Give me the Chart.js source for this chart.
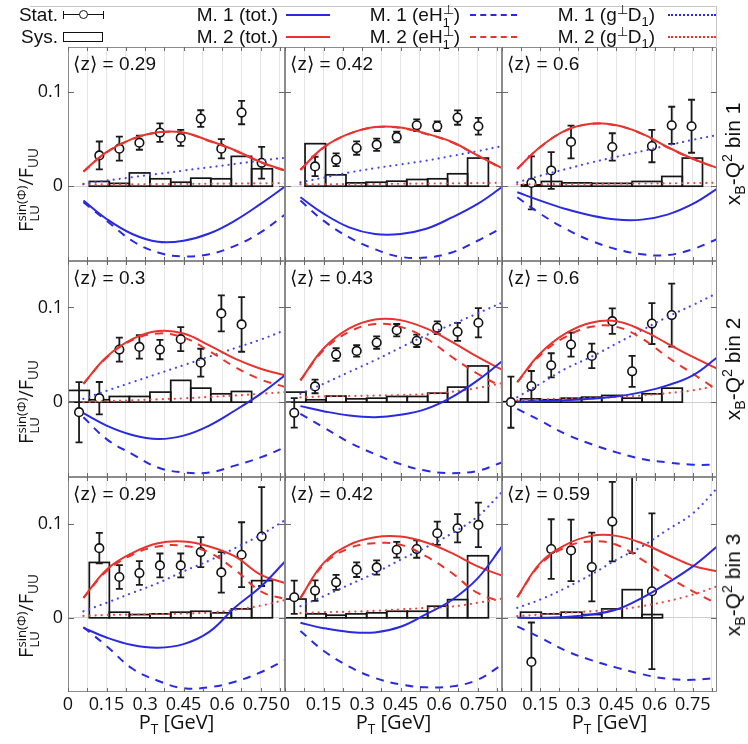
<!DOCTYPE html>
<html>
<head>
<meta charset="utf-8">
<script src="https://cdn.jsdelivr.net/npm/chart.js@4.4.1/dist/chart.umd.min.js"></script>
<style>
  body { margin: 0; background: #fff; }
  #wrap { position: relative; width: 748px; height: 744px; overflow: hidden; font-family: 'Open Sans', sans-serif; color: #111; }
  #wrap canvas { position: absolute; }
  .lab { position: absolute; white-space: nowrap; line-height: 22px; }
  .leg { font-family: 'Liberation Sans Narrow', 'Liberation Sans', sans-serif; font-size: 19px; }
  .rot { transform: translate(-50%, -50%) rotate(-90deg); }
  .st { display: inline-block; vertical-align: -0.42em; font-size: 0.66em; line-height: 1.0; text-align: left; }
  .st span { display: block; }
  sub, sup { font-size: 0.68em; line-height: 0; }
  .sym { position: absolute; }
</style>
</head>
<body>
<div id="wrap"></div>
<script>
// ---- data ----
const zLabels = ['0.29', '0.42', '0.6', '0.3', '0.43', '0.6', '0.29', '0.42', '0.59'];
const binLabels = ['bin 1', 'bin 2', 'bin 3'];
const curvePT = [0.06, 0.15, 0.25, 0.35, 0.45, 0.55, 0.65, 0.75, 0.845];

// stat. points: P_T, value, error  (one row per panel)
const statPT = [
  [0.122, 0.200, 0.278, 0.358, 0.439, 0.517, 0.597, 0.676, 0.754],
  [0.117, 0.199, 0.279, 0.357, 0.435, 0.513, 0.593, 0.672, 0.753],
  [0.1155, 0.1934, 0.2713, 0.4335, 0.5893, 0.667, 0.745],
  [0.043, 0.122, 0.200, 0.278, 0.358, 0.439, 0.517, 0.597, 0.676],
  [0.036, 0.117, 0.199, 0.279, 0.357, 0.435, 0.513, 0.593, 0.672, 0.753],
  [0.035, 0.1155, 0.1934, 0.2713, 0.353, 0.4335, 0.5114, 0.5893, 0.667],
  [0.122, 0.200, 0.278, 0.358, 0.439, 0.517, 0.597, 0.676, 0.754],
  [0.036, 0.117, 0.199, 0.279, 0.357, 0.435, 0.513, 0.593, 0.672, 0.753],
  [0.1155, 0.1934, 0.2713, 0.353, 0.4335, 0.5114, 0.5893]
];
const statVal = [
  [0.0325, 0.0396, 0.046, 0.0566, 0.051, 0.0714, 0.0396, 0.0778, 0.0247],
  [0.0209, 0.0279, 0.0403, 0.0438, 0.052, 0.0643, 0.0633, 0.0725, 0.0633],
  [0.0035, 0.0166, 0.0467, 0.0414, 0.0424, 0.0643, 0.0633],
  [-0.0106, 0.0042, 0.0555, 0.0583, 0.0555, 0.0665, 0.0417, 0.0937, 0.082],
  [-0.0113, 0.0166, 0.0502, 0.0541, 0.0629, 0.076, 0.0647, 0.0785, 0.0742, 0.0838],
  [0.0, 0.017, 0.0389, 0.0608, 0.0488, 0.0855, 0.0325, 0.083, 0.0919],
  [0.0742, 0.0435, 0.0477, 0.0558, 0.0558, 0.070, 0.0484, 0.0672, 0.0866],
  [0.0219, 0.029, 0.0378, 0.0513, 0.0537, 0.0725, 0.0732, 0.0901, 0.0954, 0.099],
  [-0.047, 0.0732, 0.0718, 0.0541, 0.1025, 0.16, 0.0283]
];
const statErr = [
  [0.0147, 0.0127, 0.0075, 0.0097, 0.0085, 0.0088, 0.0102, 0.0124, 0.0168],
  [0.0102, 0.0067, 0.0071, 0.0064, 0.0057, 0.0062, 0.0051, 0.0076, 0.0088],
  [0.0279, 0.0194, 0.0173, 0.0145, 0.0171, 0.0196, 0.028],
  [0.0318, 0.0171, 0.0127, 0.0124, 0.0102, 0.0127, 0.0147, 0.019, 0.0288],
  [0.0155, 0.0072, 0.0067, 0.006, 0.0065, 0.0065, 0.0065, 0.0067, 0.0095, 0.0155],
  [0.027, 0.0159, 0.0127, 0.0127, 0.0129, 0.0135, 0.0163, 0.0216, 0.0332],
  [0.0163, 0.0127, 0.0127, 0.0127, 0.0127, 0.0159, 0.0216, 0.0346, 0.0527],
  [0.0177, 0.011, 0.008, 0.0078, 0.0076, 0.0083, 0.0092, 0.0124, 0.015, 0.0237],
  [0.042, 0.0318, 0.0327, 0.0366, 0.0424, 0.091, 0.083]
];

// sys. boxes: bin edges and heights
const sysEdges = [
  [0.083, 0.161, 0.239, 0.319, 0.400, 0.478, 0.556, 0.636, 0.715, 0.796],
  [0.078, 0.158, 0.2375, 0.315, 0.396, 0.474, 0.5555, 0.633, 0.711, 0.792],
  [0.0766, 0.1545, 0.235, 0.352, 0.5114, 0.628, 0.7087, 0.788],
  [0.001, 0.083, 0.161, 0.239, 0.319, 0.400, 0.478, 0.556, 0.636, 0.715],
  [0.0, 0.0818, 0.16, 0.2375, 0.318, 0.396, 0.476, 0.5555, 0.633, 0.711, 0.792],
  [0.0, 0.0727, 0.1506, 0.2323, 0.3128, 0.392, 0.4725, 0.5503, 0.628, 0.7087],
  [0.083, 0.161, 0.239, 0.319, 0.400, 0.478, 0.556, 0.636, 0.715, 0.796],
  [0.0, 0.0818, 0.16, 0.2375, 0.318, 0.396, 0.476, 0.5555, 0.633, 0.711, 0.792],
  [0.0727, 0.1545, 0.2323, 0.3141, 0.392, 0.4725, 0.5503, 0.6308]
];
const sysVal = [
  [0.005, 0.003, 0.014, 0.0078, 0.0042, 0.0085, 0.0078, 0.0315, 0.0184],
  [0.0449, 0.012, 0.0035, 0.0042, 0.0053, 0.0071, 0.0078, 0.0131, 0.0297],
  [0.0014, 0.005, 0.0035, 0.003, 0.005, 0.0103, 0.0297],
  [0.0124, 0.0025, 0.006, 0.006, 0.0106, 0.023, 0.0148, 0.0088, 0.0113],
  [0.0106, 0.0025, 0.0064, 0.0035, 0.0042, 0.006, 0.006, 0.0095, 0.0159, 0.0382],
  [0.0005, 0.0035, 0.0025, 0.0042, 0.0053, 0.0071, 0.0042, 0.0088, 0.0148],
  [0.059, 0.006, 0.0035, 0.0042, 0.006, 0.007, 0.0053, 0.0095, 0.0396],
  [0.020, 0.0042, 0.0028, 0.0042, 0.0053, 0.007, 0.007, 0.0124, 0.0194, 0.0661],
  [0.006, 0.0042, 0.006, 0.0035, 0.0095, 0.030, 0.0035]
];

// model curves sampled at curvePT
const m1Tot = [
  [-0.0152, -0.0346, -0.0505, -0.0587, -0.0576, -0.050, -0.0364, -0.0187, -0.0004],
  [-0.0117, -0.029, -0.0435, -0.0505, -0.0505, -0.045, -0.033, -0.0187, -0.001],
  [-0.0064, -0.0152, -0.024, -0.031, -0.0353, -0.0353, -0.030, -0.0187, -0.0028],
  [-0.0117, -0.0247, -0.0346, -0.0389, -0.0353, -0.0247, -0.0088, 0.0088, 0.0283],
  [-0.0042, -0.0095, -0.0141, -0.0159, -0.0134, -0.0071, 0.0053, 0.023, 0.0431],
  [0.0003, 0.001, 0.002, 0.0035, 0.006, 0.0106, 0.0177, 0.0283, 0.047],
  [-0.0106, -0.021, -0.029, -0.0318, -0.028, -0.015, 0.011, 0.033, 0.060],
  [-0.0053, -0.011, -0.015, -0.0155, -0.0095, 0.004, 0.019, 0.042, 0.076],
  [0.0, 0.0, 0.001, 0.0035, 0.0088, 0.0212, 0.0371, 0.0548, 0.076]
];
const m2Tot = [
  [0.0156, 0.036, 0.050, 0.057, 0.0566, 0.048, 0.038, 0.0255, 0.0166],
  [0.0173, 0.041, 0.0555, 0.0626, 0.0619, 0.0555, 0.0467, 0.0325, 0.019],
  [0.0184, 0.0414, 0.059, 0.066, 0.0643, 0.0555, 0.0414, 0.029, 0.0194],
  [0.0194, 0.0477, 0.0665, 0.075, 0.0725, 0.060, 0.046, 0.0353, 0.0283],
  [0.023, 0.0566, 0.0778, 0.0873, 0.0866, 0.0778, 0.0636, 0.0477, 0.0343],
  [0.0212, 0.0513, 0.0725, 0.0838, 0.0855, 0.076, 0.0619, 0.0477, 0.0353],
  [0.0212, 0.0513, 0.069, 0.0795, 0.0813, 0.076, 0.0654, 0.046, 0.0371],
  [0.0212, 0.0583, 0.0778, 0.0859, 0.0866, 0.0802, 0.0689, 0.0548, 0.0449],
  [0.0219, 0.0583, 0.0778, 0.0873, 0.0873, 0.0795, 0.0672, 0.0555, 0.0495]
];
const m1eH = [
  [-0.017, -0.0364, -0.0576, -0.070, -0.0742, -0.0718, -0.063, -0.0488, -0.030],
  [-0.0152, -0.0364, -0.0541, -0.0665, -0.0746, -0.0753, -0.070, -0.0576, -0.044],
  [-0.0117, -0.029, -0.045, -0.0576, -0.0665, -0.0718, -0.0728, -0.0665, -0.0559],
  [-0.0159, -0.039, -0.0548, -0.069, -0.0742, -0.0742, -0.067, -0.0583, -0.0477],
  [-0.0124, -0.0265, -0.0424, -0.0548, -0.0654, -0.0725, -0.075, -0.0725, -0.0636],
  [-0.0071, -0.0194, -0.0336, -0.0442, -0.053, -0.060, -0.0636, -0.066, -0.066],
  [-0.010, -0.030, -0.054, -0.067, -0.075, -0.074, -0.068, -0.058, -0.045],
  [-0.014, -0.035, -0.052, -0.064, -0.071, -0.074, -0.073, -0.066, -0.050],
  [-0.009, -0.021, -0.035, -0.045, -0.053, -0.060, -0.065, -0.066, -0.064]
];
const m2eH = [
  [0.0152, 0.0357, 0.0497, 0.0567, 0.0562, 0.0477, 0.0377, 0.0252, 0.0163],
  [0.0171, 0.0407, 0.0552, 0.0622, 0.0615, 0.0552, 0.0463, 0.0322, 0.0187],
  [0.0182, 0.0411, 0.0587, 0.0657, 0.064, 0.0552, 0.0411, 0.0288, 0.0192],
  [0.0194, 0.047, 0.0654, 0.0725, 0.0682, 0.054, 0.0371, 0.024, 0.016],
  [0.023, 0.0548, 0.0742, 0.0824, 0.0795, 0.0672, 0.0477, 0.030, 0.016],
  [0.0212, 0.0495, 0.069, 0.0795, 0.0795, 0.0672, 0.0477, 0.030, 0.013],
  [0.0212, 0.0495, 0.0672, 0.076, 0.0767, 0.0696, 0.0513, 0.0283, 0.020],
  [0.0212, 0.0566, 0.0742, 0.0795, 0.0778, 0.0654, 0.0477, 0.0265, 0.017],
  [0.0219, 0.0566, 0.0753, 0.0813, 0.0778, 0.0619, 0.0442, 0.0283, 0.015]
];
const m1gD = [
  [0.0025, 0.006, 0.0095, 0.013, 0.0165, 0.020, 0.0235, 0.027, 0.030],
  [0.004, 0.009, 0.0145, 0.019, 0.023, 0.027, 0.032, 0.037, 0.0424],
  [0.004, 0.011, 0.018, 0.025, 0.031, 0.037, 0.043, 0.049, 0.054],
  [0.0035, 0.012, 0.021, 0.030, 0.039, 0.048, 0.057, 0.066, 0.076],
  [0.0088, 0.0194, 0.0318, 0.0442, 0.0576, 0.0707, 0.082, 0.0937, 0.105],
  [0.0053, 0.0194, 0.0353, 0.0477, 0.0619, 0.076, 0.090, 0.1025, 0.115],
  [0.007, 0.016, 0.0265, 0.037, 0.0495, 0.061, 0.0742, 0.0884, 0.104],
  [0.0124, 0.023, 0.0353, 0.0477, 0.0619, 0.0753, 0.090, 0.108, 0.134],
  [0.0106, 0.0194, 0.0318, 0.046, 0.0619, 0.076, 0.0937, 0.1113, 0.138]
];
const m2gD = [
  [0.002, 0.002, 0.002, 0.0022, 0.0024, 0.0026, 0.0028, 0.003, 0.0032],
  [0.002, 0.002, 0.0022, 0.0024, 0.0026, 0.0028, 0.003, 0.0033, 0.0036],
  [0.002, 0.002, 0.0022, 0.0024, 0.0026, 0.0028, 0.003, 0.0033, 0.0036],
  [0.0, 0.001, 0.002, 0.003, 0.004, 0.0055, 0.007, 0.0088, 0.0106],
  [0.005, 0.006, 0.0065, 0.007, 0.0075, 0.0085, 0.011, 0.015, 0.020],
  [0.002, 0.003, 0.004, 0.0045, 0.0055, 0.007, 0.0095, 0.0125, 0.0175],
  [0.002, 0.003, 0.0035, 0.004, 0.0045, 0.0055, 0.0085, 0.013, 0.019],
  [0.005, 0.006, 0.0065, 0.0075, 0.009, 0.0105, 0.012, 0.016, 0.0205],
  [0.0018, 0.0035, 0.0053, 0.007, 0.0088, 0.0124, 0.0177, 0.0247, 0.0336]
];

// ---- layout ----
const colL = [68, 285, 502], colR = [285, 502, 717];
const rowT = [47, 261, 477], rowB = [261, 477, 692];
const yMax = [0.147, 0.149, 0.15];
const YW = 40, XH = 28;
const BLUE = '#2a2ae2', RED = '#e8332e';

const wrap = document.getElementById('wrap');

function addLabel(html, css, cls) {
  const d = document.createElement('div');
  d.className = 'lab ' + (cls || '');
  d.innerHTML = html;
  Object.assign(d.style, css);
  wrap.appendChild(d);
  return d;
}

// boxes and error bars, drawn through the chart scales
const statSysPlugin = {
  id: 'statSys',
  beforeDatasetsDraw(chart, args, opts) {
    const p = opts.panel;
    const { ctx, chartArea: a } = chart;
    const x = chart.scales.x, y = chart.scales.y;
    ctx.save();
    ctx.beginPath();
    ctx.rect(a.left, a.top, a.right - a.left, a.bottom - a.top);
    ctx.clip();
    // sys boxes
    ctx.strokeStyle = '#141414';
    ctx.lineWidth = 1.7;
    const e = sysEdges[p], v = sysVal[p];
    for (let i = 0; i < v.length; i++) {
      const x0 = x.getPixelForValue(e[i]), x1 = x.getPixelForValue(e[i + 1]);
      const y0 = y.getPixelForValue(0), y1 = y.getPixelForValue(v[i]);
      ctx.strokeRect(x0, y1, x1 - x0, y0 - y1);
    }
    // stat error bars
    ctx.lineWidth = 1.8;
    ctx.strokeStyle = '#1a1a1a';
    const px = statPT[p], pv = statVal[p], pe = statErr[p];
    for (let i = 0; i < px.length; i++) {
      const xx = x.getPixelForValue(px[i]);
      const yl = y.getPixelForValue(pv[i] - pe[i]);
      const yh = y.getPixelForValue(pv[i] + pe[i]);
      ctx.beginPath();
      ctx.moveTo(xx, yl); ctx.lineTo(xx, yh);
      ctx.moveTo(xx - 3.5, yl); ctx.lineTo(xx + 3.5, yl);
      ctx.moveTo(xx - 3.5, yh); ctx.lineTo(xx + 3.5, yh);
      ctx.stroke();
    }
    ctx.restore();
  },
  afterDraw(chart, args, opts) {
    const { ctx, chartArea: a } = chart;
    const x = chart.scales.x, y = chart.scales.y;
    ctx.save();
    ctx.strokeStyle = '#8c8c8c';
    ctx.lineWidth = 1;
    ctx.strokeRect(a.left + 0.5, a.top + 0.5, a.right - a.left - 1, a.bottom - a.top - 1);
    // small inward tick marks on all four sides
    ctx.strokeStyle = '#6a6a6a';
    ctx.beginPath();
    x.ticks.forEach(t => {
      const xx = Math.round(x.getPixelForValue(t.value)) + 0.5;
      ctx.moveTo(xx, a.top); ctx.lineTo(xx, a.top + 4);
      ctx.moveTo(xx, a.bottom); ctx.lineTo(xx, a.bottom - 4);
    });
    y.ticks.forEach(t => {
      const yy = Math.round(y.getPixelForValue(t.value)) + 0.5;
      ctx.moveTo(a.left, yy); ctx.lineTo(a.left + 6, yy);
      ctx.moveTo(a.right, yy); ctx.lineTo(a.right - 6, yy);
    });
    ctx.stroke();
    ctx.fillStyle = '#111';
    ctx.font = "19px 'Liberation Sans', 'DejaVu Sans', sans-serif";
    ctx.textBaseline = 'alphabetic';
    ctx.fillText('\u27E8z\u27E9 = ' + zLabels[opts.panel], a.left + 5, a.top + 23);
    ctx.restore();
  }
};

function curve(vals, color, dash, width) {
  return {
    type: 'line',
    data: curvePT.map((x, i) => ({ x: x, y: vals[i] })),
    borderColor: color,
    borderWidth: width || 2,
    borderDash: dash || [],
    borderCapStyle: dash && dash[0] < 1 ? 'round' : 'butt',
    pointRadius: 0,
    fill: false,
    tension: 0.4,
    clip: 0
  };
}

// fixed axis sizes, no extra padding from tick labels
function fixSize(prop, size) {
  return s => {
    s[prop] = size;
    s.paddingLeft = 0; s.paddingRight = 0; s.paddingTop = 0; s.paddingBottom = 0;
  };
}

for (let p = 0; p < 9; p++) {
  const r = Math.floor(p / 3), c = p % 3;
  const yw = c === 0 ? YW : 0;
  const xh = r === 2 ? XH : 0;
  const padL = c === 0 ? 0 : (r === 2 ? 10 : 1);
  const padB = r === 2 ? 0 : 1;
  const padR = r === 2 ? 12 : 1;
  const w = colR[c] - colL[c] + yw + padL + padR;
  const h = rowB[r] - rowT[r] + 1 + xh + padB;
  const cv = document.createElement('canvas');
  cv.width = w; cv.height = h;
  cv.style.left = (colL[c] - yw - padL) + 'px';
  cv.style.top = (rowT[r] - 1) + 'px';
  wrap.appendChild(cv);

  new Chart(cv.getContext('2d'), {
    type: 'line',
    data: {
      datasets: [
        curve(m1Tot[p], BLUE),
        curve(m2Tot[p], RED),
        curve(m1eH[p], BLUE, [8, 7]),
        curve(m2eH[p], RED, [8, 7]),
        curve(m1gD[p], '#4848ea', [0.1, 6], 2.2),
        curve(m2gD[p], '#ec4b46', [0.1, 6], 2.2),
        {
          type: 'scatter',
          data: statPT[p].map((x, i) => ({ x: x, y: statVal[p][i] })),
          pointRadius: 4.3,
          pointBorderWidth: 1.6,
          pointBorderColor: '#111',
          pointBackgroundColor: '#fff',
          clip: 0
        }
      ]
    },
    options: {
      responsive: false,
      devicePixelRatio: 1,
      animation: false,
      events: [],
      layout: { autoPadding: false, padding: { left: padL, right: padR, top: 1, bottom: padB } },
      plugins: {
        legend: { display: false },
        tooltip: { enabled: false },
        statSys: { panel: p }
      },
      scales: {
        x: {
          type: 'linear',
          min: 0,
          max: 0.845,
          border: { display: false },
          grid: { color: '#e6e6e6', drawTicks: false },
          ticks: {
            display: r === 2,
            stepSize: 0.075,
            includeBounds: false,
            autoSkip: false,
            maxRotation: 0,
            padding: 2,
            color: '#111',
            font: { family: "'Open Sans'", size: 18 },
            callback: v => {
              const k = Math.round(v / 0.075);
              return k % 2 === 0 ? String(+(k * 0.075).toFixed(2)) : '';
            }
          },
          afterFit: fixSize('height', xh)
        },
        y: {
          min: -0.079,
          max: yMax[r],
          border: { display: false },
          grid: {
            drawTicks: false,
            color: ctx => (ctx.tick && Math.abs(ctx.tick.value) < 1e-9) ? '#d0d0d0' : 'rgba(0,0,0,0)'
          },
          ticks: {
            display: c === 0,
            stepSize: 0.1,
            includeBounds: false,
            padding: 5,
            color: '#111',
            font: { family: "'Open Sans'", size: 18 },
            callback: v => Math.abs(v) < 1e-9 ? '0' : String(+v.toFixed(2))
          },
          afterFit: fixSize('width', yw)
        }
      }
    },
    plugins: [statSysPlugin]
  });
}

// ---- axis titles ----
const yTitleY = [190, 402, 616];
for (let r = 0; r < 3; r++) {
  addLabel('F<span class="st"><span>sin(\u03A6)</span><span>LU</span></span>/F<sub>UU</sub>',
    { left: '28px', top: yTitleY[r] + 'px', fontSize: '20px' }, 'rot');
  addLabel('x<sub>B</sub>-Q<sup>2</sup> ' + binLabels[r],
    { left: '733px', top: (rowT[r] + rowB[r]) / 2 + 'px', fontSize: '21px', fontFamily: "'Liberation Sans', sans-serif" }, 'rot');
}
for (let c = 0; c < 3; c++) {
  addLabel('P<sub>T</sub> [GeV]',
    { left: (colL[c] + colR[c]) / 2 + 'px', top: '722px', fontSize: '20px', transform: 'translate(-50%, -50%)' });
}

// ---- legend ----
const legText = [
  ['Stat.', 'Sys.'],
  ['M. 1 (tot.)', 'M. 2 (tot.)'],
  ['M. 1 (eH<span class="st"><span>\u22A5</span><span>1</span></span>)', 'M. 2 (eH<span class="st"><span>\u22A5</span><span>1</span></span>)'],
  ['M. 1 (g<sup>\u22A5</sup>D<sub>1</sub>)', 'M. 2 (g<sup>\u22A5</sup>D<sub>1</sub>)']
];
const legTextRight = [58, 278, 460, 655];
const legSym = [[63, 104], [286, 330], [470, 517], [668, 716]];
const legRowY = [15, 37];
const legStyle = [null, 'solid', 'dashed', 'dotted'];

const frame = document.createElement('div');
Object.assign(frame.style, { position: 'absolute', left: '30px', top: '6px', width: '686px', height: '41px',
  borderTop: '1px solid #c8c8c8', borderRight: '1px solid #c8c8c8' });
wrap.appendChild(frame);

for (let k = 0; k < 4; k++) {
  for (let j = 0; j < 2; j++) {
    const yc = legRowY[j];
    addLabel(legText[k][j], { right: (748 - legTextRight[k]) + 'px', top: (yc - 11) + 'px' }, 'leg');
    const [a, b] = legSym[k];
    const s = document.createElement('div');
    s.className = 'sym';
    if (k === 0 && j === 0) {
      Object.assign(s.style, { left: a + 'px', top: (yc - 4) + 'px', width: (b - a) + 'px', height: '8px' });
      s.innerHTML =
        '<div style="position:absolute;left:0;right:0;top:3px;border-top:1.6px solid #111"></div>' +
        '<div style="position:absolute;left:0;top:0;height:8px;border-left:1.6px solid #111"></div>' +
        '<div style="position:absolute;right:0;top:0;height:8px;border-left:1.6px solid #111"></div>' +
        '<div style="position:absolute;left:' + ((b - a) / 2 - 4.5) + 'px;top:-1px;width:7px;height:7px;border:1.5px solid #111;border-radius:50%;background:#fff"></div>';
    } else if (k === 0) {
      Object.assign(s.style, { left: a + 'px', top: (yc - 5) + 'px', width: (b - a - 3) + 'px', height: '8px', border: '1.6px solid #111' });
    } else {
      const col = j === 0 ? BLUE : RED;
      Object.assign(s.style, { left: a + 'px', top: (yc - 1) + 'px', width: (b - a) + 'px', height: '0px',
        borderTop: '2px ' + legStyle[k] + ' ' + col });
    }
    wrap.appendChild(s);
  }
}
</script>
</body>
</html>
